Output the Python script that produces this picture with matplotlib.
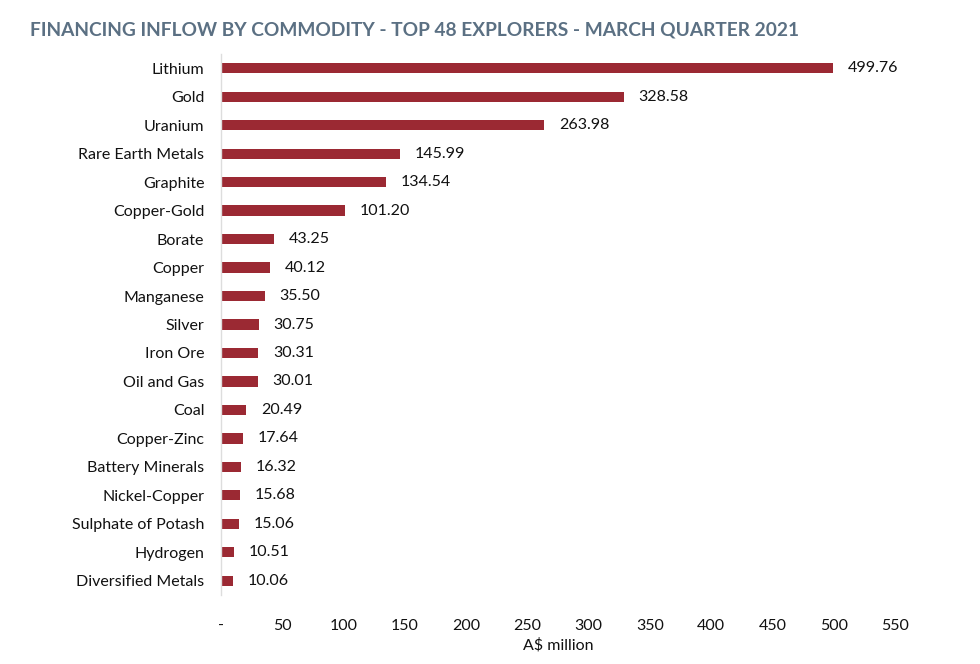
import matplotlib
matplotlib.use("Agg")
import matplotlib.pyplot as plt

categories = ["Lithium", "Gold", "Uranium", "Rare Earth Metals", "Graphite", "Copper-Gold",
              "Borate", "Copper", "Manganese", "Silver", "Iron Ore", "Oil and Gas", "Coal",
              "Copper-Zinc", "Battery Minerals", "Nickel-Copper", "Sulphate of Potash",
              "Hydrogen", "Diversified Metals"]
values = [499.76, 328.58, 263.98, 145.99, 134.54, 101.20, 43.25, 40.12, 35.50, 30.75,
          30.31, 30.01, 20.49, 17.64, 16.32, 15.68, 15.06, 10.51, 10.06]
xticks = [0, 50, 100, 150, 200, 250, 300, 350, 400, 450, 500, 550]
xticklabels = ["-", "50", "100", "150", "200", "250", "300", "350", "400", "450", "500", "550"]

plt.rcParams['font.family'] = ['Lato', 'DejaVu Sans']

fig = plt.figure(figsize=(9.8, 6.64), dpi=100)
ax = fig.add_axes([221/980, 1-595/664, (895-221)/980, (595-54)/664])

ypos = list(range(len(categories)))
ax.barh(ypos, values, height=0.36, color="#9b2933")
for y, v in zip(ypos, values):
    ax.text(v + 12, y, f"{v:.2f}", va="center", ha="left", fontsize=11.5, color="#111111")

ax.set_yticks(ypos)
ax.set_yticklabels(categories, fontsize=11.5, color="#111111")
ax.set_ylim(len(categories) - 0.5, -0.5)
ax.set_xlim(0, 550)
ax.set_xticks(xticks)
ax.set_xticklabels(xticklabels, fontsize=11.5, color="#111111")
ax.tick_params(axis="x", length=0, pad=17)
ax.tick_params(axis="y", length=0, pad=12)
ax.set_xlabel("A$ million", fontsize=11.5, color="#111111", labelpad=4)

for s in ["top", "right", "bottom"]:
    ax.spines[s].set_visible(False)
ax.spines["left"].set_color("#dddddd")
ax.spines["left"].set_linewidth(1)

fig.text(30/980, 1-30/664, "FINANCING INFLOW BY COMMODITY - TOP 48 EXPLORERS - MARCH QUARTER 2021",
         fontsize=13.8, fontweight="bold", color="#5b7083", ha="left", va="center")

fig.savefig("out.png", dpi=100)
